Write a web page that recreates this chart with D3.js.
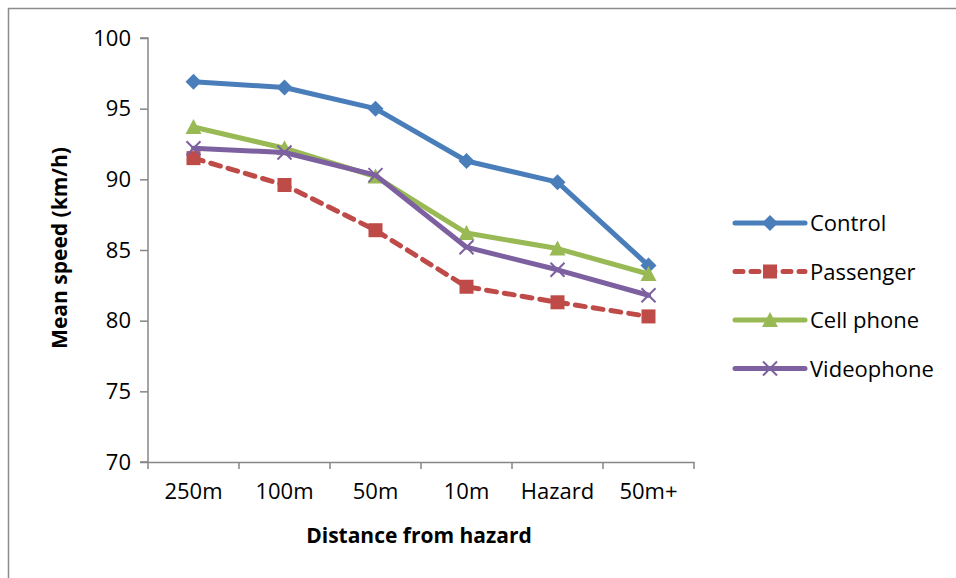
<!DOCTYPE html>
<html>
<head>
<meta charset="utf-8">
<script src="https://cdn.jsdelivr.net/npm/d3@7"></script>
<style>
  html, body { margin: 0; padding: 0; background: #fff; }
  svg { display: block; font-family: "Open Sans", Lato, sans-serif; }
</style>
</head>
<body>
<svg width="956" height="578"></svg>
<script>
// chart data
const categories = ['250m', '100m', '50m', '10m', 'Hazard', '50m+'];
const control = [96.9, 96.5, 95.0, 91.3, 89.8, 83.9];
const passenger = [91.5, 89.6, 86.4, 82.4, 81.3, 80.3];
const cellPhone = [93.7, 92.2, 90.2, 86.2, 85.1, 83.3];
const videophone = [92.2, 91.9, 90.3, 85.2, 83.6, 81.8];
const yTicks = [70, 75, 80, 85, 90, 95, 100];
const seriesNames = ['Control', 'Passenger', 'Cell phone', 'Videophone'];

const series = [
    { name: seriesNames[0], values: control, color: '#4a7ebb', dash: null, marker: 'diamond' },
    { name: seriesNames[1], values: passenger, color: '#be4b48', dash: '10,8', marker: 'square' },
    { name: seriesNames[2], values: cellPhone, color: '#98b954', dash: null, marker: 'triangle' },
    { name: seriesNames[3], values: videophone, color: '#7d60a0', dash: null, marker: 'cross' }
];

const svg = d3.select('svg');
const margin = { top: 38, left: 148 };
const innerWidth = 546;
const innerHeight = 424;
const fontFam = '"Open Sans", Lato, sans-serif';
const labelSize = '22px';

// outer frame (only top and left edges visible in the crop)
svg.append('path')
    .attr('d', 'M8.5,578 L8.5,8.5 L956,8.5')
    .attr('fill', 'none')
    .attr('stroke', '#8c8c8c')
    .attr('stroke-width', 1.5);

const g = svg.append('g').attr('transform', `translate(${margin.left},${margin.top})`);

const xScale = d3.scaleBand().domain(categories).range([0, innerWidth]);
const yScale = d3.scaleLinear().domain([70, 100]).range([innerHeight, 0]);

// y axis
const yAxis = g.append('g')
    .call(d3.axisLeft(yScale).tickValues(yTicks).tickSize(8).tickPadding(9));
// x axis, ticks at band edges
const xAxis = g.append('g')
    .attr('transform', `translate(0,${innerHeight})`)
    .call(d3.axisBottom(xScale).tickSize(0).tickPadding(21));

const edges = d3.range(categories.length + 1).map(i => i * xScale.bandwidth());
xAxis.selectAll('.edge').data(edges).enter().append('line')
    .attr('x1', d => d).attr('x2', d => d)
    .attr('y1', 0).attr('y2', 7)
    .attr('stroke', '#868686').attr('stroke-width', 1.5);

[yAxis, xAxis].forEach(ax => {
    ax.attr('font-size', null).attr('font-family', null);
    ax.select('.domain').attr('stroke', '#868686').attr('stroke-width', 1.5);
    ax.selectAll('.tick line').attr('stroke', '#868686').attr('stroke-width', 1.5);
    ax.selectAll('.tick text').attr('fill', '#000').style('font-size', labelSize)
        .style('font-family', fontFam);
});
yAxis.select('.domain').attr('d', `M-8,${innerHeight}H0V0H-8`);

// axis titles
svg.append('text')
    .attr('x', margin.left + innerWidth / 2 - 2)
    .attr('y', 543)
    .attr('text-anchor', 'middle')
    .style('font-size', '21px').style('font-weight', 'bold')
    .text('Distance from hazard');
svg.append('text')
    .attr('transform', `translate(67,${margin.top + innerHeight / 2 - 2}) rotate(-90)`)
    .attr('text-anchor', 'middle')
    .style('font-size', '21px').style('font-weight', 'bold')
    .text('Mean speed (km/h)');

function drawMarker(sel, type, color) {
    if (type === 'diamond') {
        sel.append('path').attr('d', 'M0,-8L8,0L0,8L-8,0Z').attr('fill', color);
    } else if (type === 'square') {
        sel.append('rect').attr('x', -7).attr('y', -7).attr('width', 14).attr('height', 14).attr('fill', color);
    } else if (type === 'triangle') {
        sel.append('path').attr('d', 'M0,-8L8,7L-8,7Z').attr('fill', color);
    } else {
        sel.append('path').attr('d', 'M-7,-7L7,7M7,-7L-7,7')
            .attr('stroke', color).attr('stroke-width', 2).attr('fill', 'none');
    }
}

const line = d3.line()
    .x((d, i) => xScale(categories[i]) + xScale.bandwidth() / 2)
    .y(d => yScale(d));

series.forEach(s => {
    g.append('path')
        .datum(s.values)
        .attr('d', line)
        .attr('fill', 'none')
        .attr('stroke', s.color)
        .attr('stroke-width', 5)
        .attr('stroke-linejoin', 'round')
        .attr('stroke-linecap', 'round')
        .attr('stroke-dasharray', s.dash);
    s.values.forEach((v, i) => {
        const m = g.append('g')
            .attr('transform', `translate(${xScale(categories[i]) + xScale.bandwidth() / 2},${yScale(v)})`);
        drawMarker(m, s.marker, s.color);
    });
});

// legend
const legend = svg.append('g').attr('transform', 'translate(733,223)');
series.forEach((s, i) => {
    const row = legend.append('g').attr('transform', `translate(0,${i * 48.5})`);
    row.append('line')
        .attr('x1', 2).attr('x2', 72)
        .attr('stroke', s.color).attr('stroke-width', 5)
        .attr('stroke-linecap', 'round')
        .attr('stroke-dasharray', s.dash ? '8,8' : null);
    const m = row.append('g').attr('transform', 'translate(37,0)');
    drawMarker(m, s.marker, s.color);
    row.append('text')
        .attr('x', 77).attr('y', 8)
        .style('font-size', labelSize)
        .text(s.name);
});
</script>
</body>
</html>
